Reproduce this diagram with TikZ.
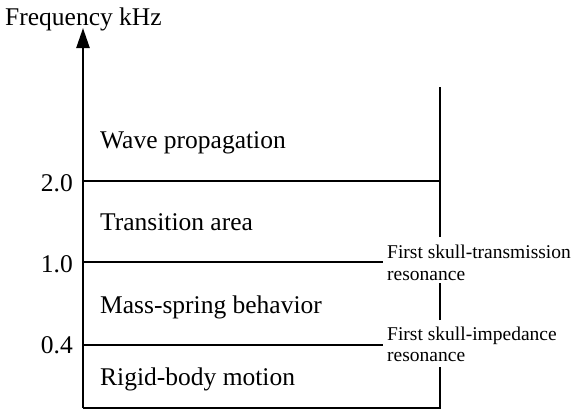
\documentclass[tikz,border=0pt]{standalone}
\usepackage{fontspec}
\setmainfont{Liberation Serif}
\usetikzlibrary{arrows.meta}
\begin{document}
\begin{tikzpicture}[x=1pt,y=-1pt,
  axis/.style={line width=2.4pt},
  level/.style={line width=1.1pt},
  big/.style={font=\fontsize{25.5}{30}\selectfont,inner sep=0pt},
  region/.style={big,anchor=base west},
  tick/.style={big,anchor=base east},
  note/.style={anchor=base west,align=left,font=\fontsize{19.5}{21}\selectfont,inner sep=0pt}]
\useasboundingbox (0,0) rectangle (574,413);
\coordinate (o) at (83,408);
\coordinate (top) at (83,28);
\coordinate (br) at (440,408);
\draw[axis,-{Triangle[length=20pt,width=13pt]}] (o) -- (top);
\draw[axis] (o) -- (br) -- (440,367);
\draw[axis] (440,320) -- (440,283);
\draw[axis] (440,237) -- (440,87);
\draw[level] (83,181) -- (440,181);
\draw[level] (83,262) -- (383,262);
\draw[level] (83,345) -- (383,345);
\node[big,anchor=base west] (ylab) at (5,25) {Frequency kHz};
\node[tick] (t2) at (73,191) {2.0};
\node[tick] (t1) at (73,272) {1.0};
\node[tick] (t04) at (73,353) {0.4};
\node[region] (wave) at (100,148) {Wave propagation};
\node[region] (trans) at (100,230) {Transition area};
\node[region] (mass) at (100,313) {Mass-spring behavior};
\node[region] (rigid) at (100,385) {Rigid-body motion};
\node[note] (n1) at (387,258) {First skull-transmission};
\node[note] (n1b) at (387,280) {resonance};
\node[note] (n2) at (387,340) {First skull-impedance};
\node[note] (n2b) at (387,361) {resonance};
\end{tikzpicture}
\end{document}
